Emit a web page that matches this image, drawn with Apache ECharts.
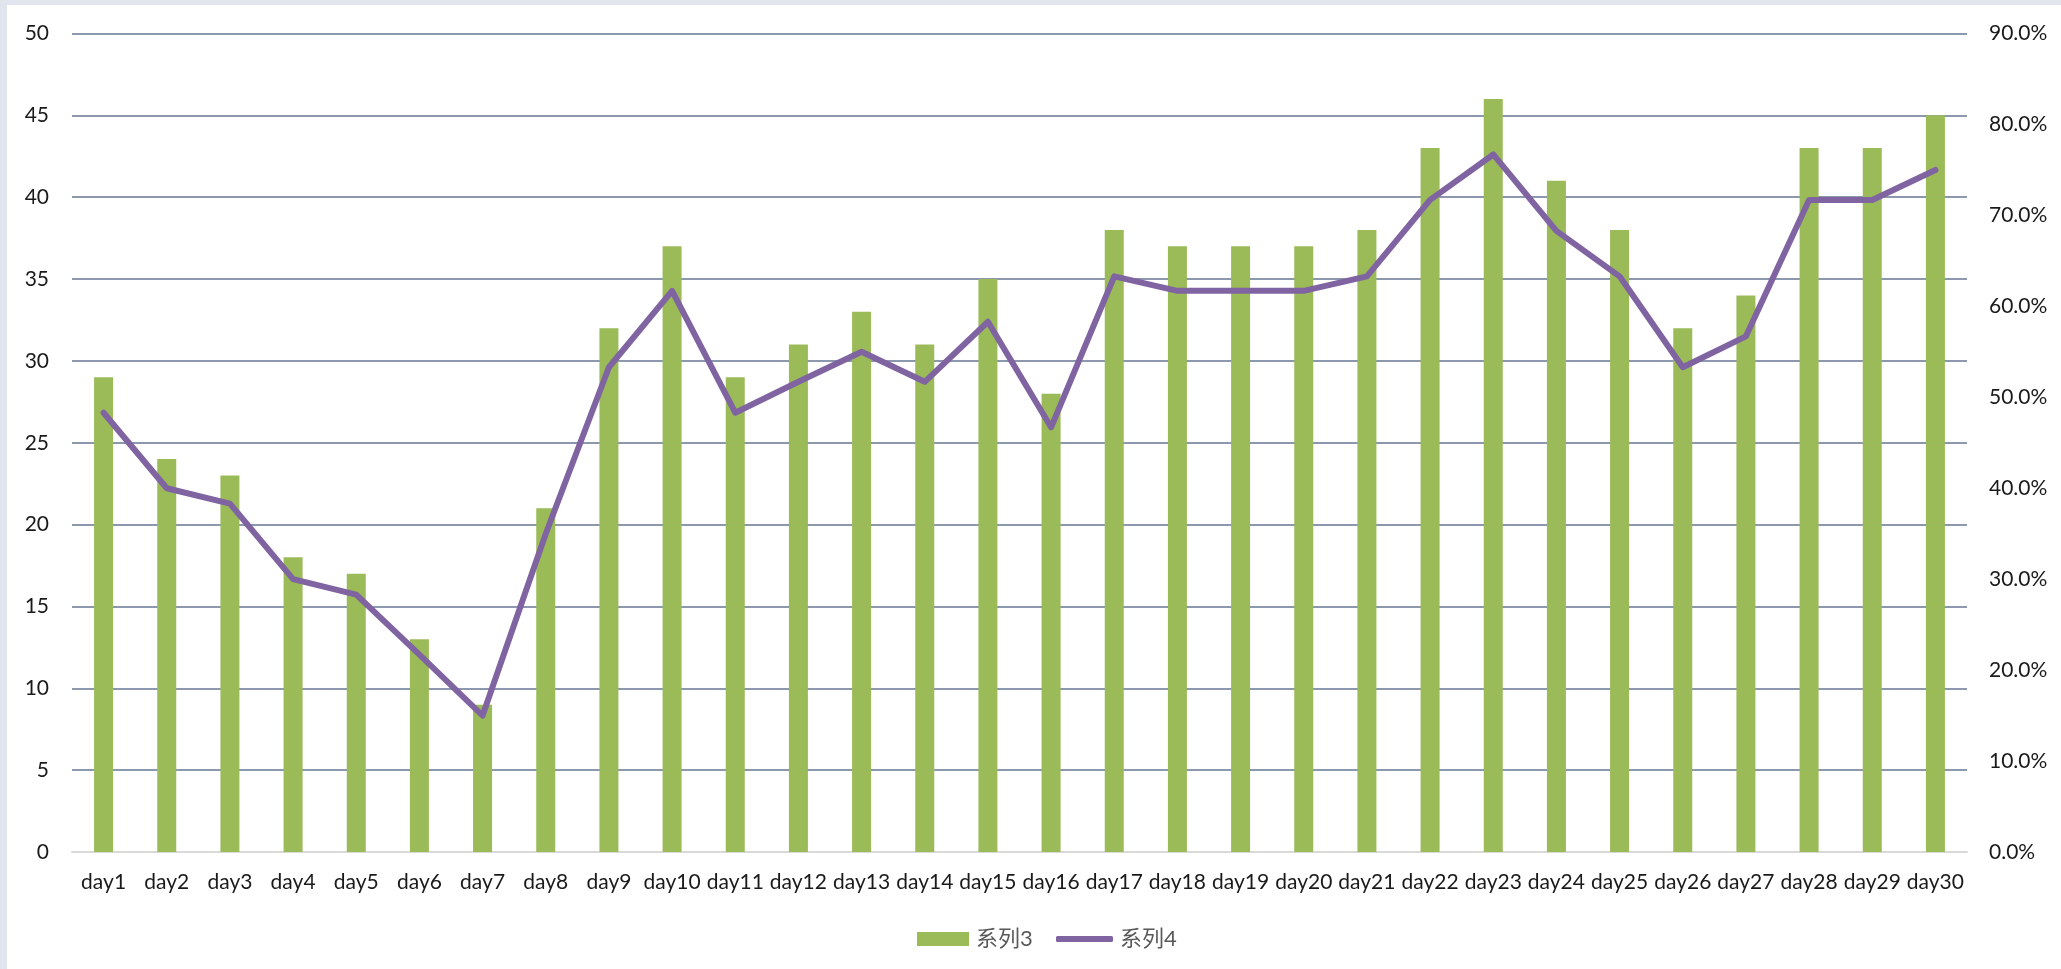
<!DOCTYPE html>
<html>
<head>
<meta charset="utf-8">
<script src="https://cdn.jsdelivr.net/npm/echarts@6/dist/echarts.min.js"></script>
<style>
html,body{margin:0;padding:0;background:#e1e5ed;width:2061px;height:969px;overflow:hidden;}
#c{position:absolute;left:7px;top:5px;width:2054px;height:964px;background:#fff;}
</style>
</head>
<body>
<div id="c"></div>
<script>
const categories = ['day1','day2','day3','day4','day5','day6','day7','day8','day9','day10','day11','day12','day13','day14','day15','day16','day17','day18','day19','day20','day21','day22','day23','day24','day25','day26','day27','day28','day29','day30'];
const series3 = [29,24,23,18,17,13,9,21,32,37,29,31,33,31,35,28,38,37,37,37,38,43,46,41,38,32,34,43,43,45];
const series4 = [0.483,0.400,0.383,0.300,0.283,0.217,0.150,0.350,0.533,0.617,0.483,0.517,0.550,0.517,0.583,0.467,0.633,0.617,0.617,0.617,0.633,0.717,0.767,0.683,0.633,0.533,0.567,0.717,0.717,0.750];
const seriesNames = ['系列3','系列4'];

const FONT = "Lato, 'Noto Sans CJK SC', sans-serif";
const legendText = {fontSize:22, color:'#595959', fontFamily:FONT, padding:[0,0,0,2]};
const chart = echarts.init(document.getElementById('c'), null, {renderer:'canvas'});
chart.setOption({
  animation:false,
  backgroundColor:'#ffffff',
  textStyle:{fontFamily:FONT},
  grid:{left:65, right:94, top:28.5, bottom:117, containLabel:false},
  legend:[
    {data:[seriesNames[0]], icon:'rect', left:905, top:918,
     itemWidth:52, itemHeight:14, textStyle:legendText},
    {data:[seriesNames[1]], icon:'roundRect', left:1044, top:918,
     itemWidth:57, itemHeight:6, textStyle:legendText,
     itemStyle:{color:'#8064a2', borderWidth:0}}
  ],
  xAxis:{
    type:'category', data:categories,
    axisTick:{show:false},
    axisLine:{show:true, lineStyle:{color:'#d9d9d9', width:2}},
    axisLabel:{color:'#1a1a1a', fontSize:21, margin:20, interval:0, fontFamily:FONT}
  },
  yAxis:[
    {type:'value', min:0, max:50, interval:5,
     axisLine:{show:false}, axisTick:{show:false},
     axisLabel:{color:'#1a1a1a', fontSize:21, margin:23, fontFamily:FONT},
     splitLine:{show:true, lineStyle:{color:'#8b98ad', width:2}}},
    {type:'value', min:0, max:0.9, interval:0.1,
     axisLine:{show:false}, axisTick:{show:false},
     axisLabel:{color:'#1a1a1a', fontSize:21, margin:22, fontFamily:FONT,
       formatter:function(v){return (v*100).toFixed(1)+'%';}},
     splitLine:{show:false}}
  ],
  series:[
    {name:seriesNames[0], type:'bar', data:series3, barWidth:19, yAxisIndex:0,
     itemStyle:{color:'#9bbb59'}},
    {name:seriesNames[1], type:'line', data:series4, yAxisIndex:1,
     symbol:'none', showSymbol:false, z:5,
     lineStyle:{color:'#8064a2', width:6, cap:'round', join:'round'},
     itemStyle:{color:'#8064a2'}}
  ]
});
</script>
</body>
</html>
